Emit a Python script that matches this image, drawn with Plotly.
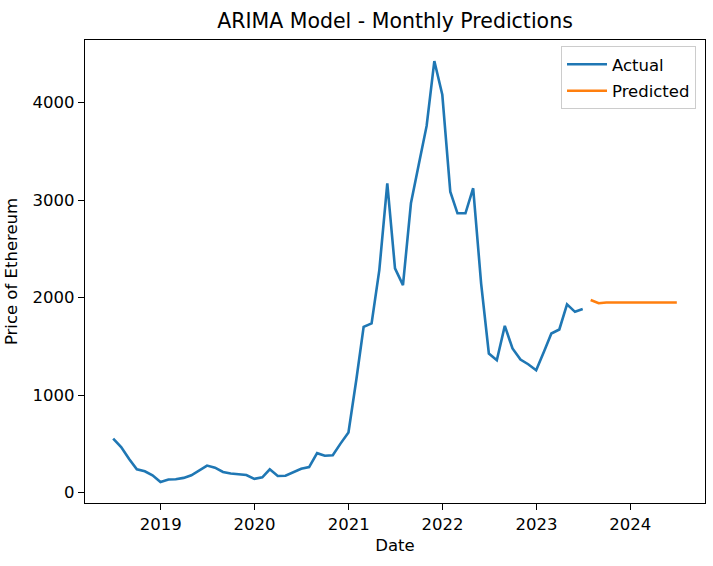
import pandas as pd
import plotly.graph_objects as go

# ---- data ----
actual_start = "2018-06-30"
actual_values = [
    554, 468, 345, 239, 219, 178, 110,
    135, 138, 152, 178, 229, 278, 257, 212, 196, 188, 181, 142,
    158, 239, 171, 174, 212, 246, 262, 405, 378, 383, 503, 618,
    1165, 1700, 1735, 2282, 3172, 2300, 2128, 2967, 3360, 3760, 4425, 4079,
    3086, 2864, 2864, 3121, 2144, 1427, 1358, 1710, 1478, 1365, 1317, 1256,
    1450, 1632, 1673, 1930, 1854, 1882,
]
predicted_start = "2023-07-31"
predicted_values = [1975, 1942, 1950, 1948, 1949, 1949, 1949, 1949, 1949, 1949, 1949, 1949]

x_tick_values = ["2019-01-01", "2020-01-01", "2021-01-01", "2022-01-01", "2023-01-01", "2024-01-01"]
x_tick_labels = ["2019", "2020", "2021", "2022", "2023", "2024"]
y_tick_values = [0, 1000, 2000, 3000, 4000]
y_tick_labels = ["0", "1000", "2000", "3000", "4000"]

title_text = "ARIMA Model - Monthly Predictions"
x_label = "Date"
y_label = "Price of Ethereum"

actual_dates = pd.date_range(actual_start, periods=len(actual_values), freq=pd.offsets.MonthEnd())
predicted_dates = pd.date_range(predicted_start, periods=len(predicted_values), freq=pd.offsets.MonthEnd())

# matplotlib-like 5% auto margins
all_dates = list(actual_dates) + list(predicted_dates)
dmin, dmax = min(all_dates), max(all_dates)
dpad = (dmax - dmin) * 0.05
x_range = [dmin - dpad, dmax + dpad]
all_vals = actual_values + predicted_values
vmin, vmax = min(all_vals), max(all_vals)
vpad = (vmax - vmin) * 0.05
y_range = [vmin - vpad, vmax + vpad]

FONT = "DejaVu Sans"

fig = go.Figure()
fig.add_trace(go.Scatter(x=actual_dates, y=actual_values, mode="lines", name="Actual",
                         legendgroup="a",
                         line=dict(color="#1f77b4", width=2.6)))
fig.add_trace(go.Scatter(x=predicted_dates, y=predicted_values, mode="lines", name="Predicted",
                         legendgroup="p",
                         line=dict(color="#ff7f0e", width=2.6)))

axis_common = dict(
    showline=True, linecolor="black", linewidth=1.2, mirror=True,
    ticks="outside", ticklen=6, tickwidth=1.2, tickcolor="black",
    showgrid=False, zeroline=False, automargin=False,
    tickfont=dict(family=FONT, size=16.5, color="black"),
)

fig.update_layout(
    width=713, height=566,
    paper_bgcolor="white", plot_bgcolor="white",
    margin=dict(l=85, r=8, t=40, b=63, pad=0, autoexpand=False),
    font=dict(family=FONT, size=16.5, color="black"),
    title=dict(text=title_text, x=(85 + 705) / 2 / 713, xanchor="center",
               y=1 - 21 / 566, yanchor="middle", yref="container",
               font=dict(family=FONT, size=20.5, color="black")),
    xaxis=dict(type="date", range=x_range, tickvals=x_tick_values, ticktext=x_tick_labels,
               title=dict(text=x_label, standoff=6, font=dict(family=FONT, size=16.5)),
               **axis_common),
    yaxis=dict(range=y_range, tickvals=y_tick_values, ticktext=y_tick_labels,
               title=dict(text=y_label, standoff=10, font=dict(family=FONT, size=16.5)),
               **axis_common),
    legend=dict(x=0.9855, y=0.987, xanchor="right", yanchor="top",
                bgcolor="rgba(255,255,255,0.8)", bordercolor="#cccccc", borderwidth=1,
                tracegroupgap=2, itemwidth=40,
                font=dict(family=FONT, size=16.5, color="black")),
    showlegend=True,
)

fig.write_html("out.html", config={"displayModeBar": False},
               post_script="document.body.style.margin='0';document.body.style.padding='0';")
